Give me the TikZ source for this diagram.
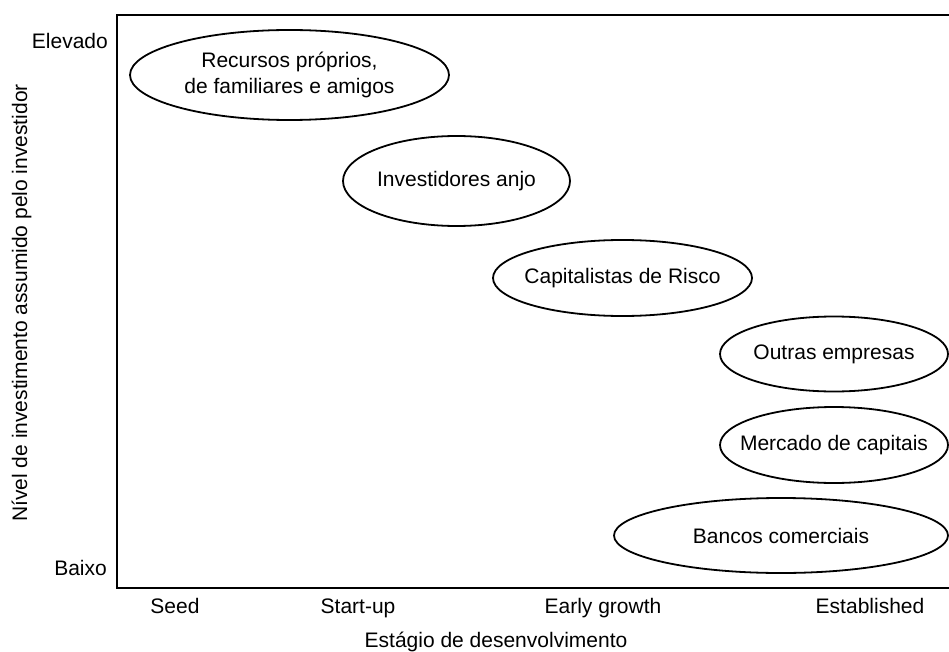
\documentclass[tikz,border=0pt]{standalone}
\usepackage{fontspec}
\setmainfont{Liberation Sans}
\usetikzlibrary{shapes.geometric}
\begin{document}
\begin{tikzpicture}[x=1pt,y=-1pt,
  every node/.style={font=\fontsize{21}{26}\selectfont, inner sep=0pt},
  oval/.style={ellipse, draw, line width=1.8pt},
  axis/.style={line width=2pt},
  tick/.style={anchor=base}]
\useasboundingbox (0,0) rectangle (949,652);
% axes
\coordinate (tr) at (949,15);
\coordinate (tl) at (117,15);
\coordinate (bl) at (117,588);
\coordinate (br) at (949,588);
\draw[axis] (tr) -- (tl) -- (bl) -- (br);
% ellipses
\node[oval, minimum width=319, minimum height=90] (rec) at (289.5,75) {};
\node[align=center] (rect) at (rec.center) {Recursos próprios,\\de familiares e amigos};
\node[oval, minimum width=227, minimum height=90] (anj) at (456.5,181) {};
\node (anjt) at (anj.center) {Investidores anjo};
\node[oval, minimum width=259, minimum height=76] (cap) at (622.5,278) {};
\node (capt) at (cap.center) {Capitalistas de Risco};
\node[oval, minimum width=228, minimum height=75] (out) at (834,354) {};
\node (outt) at (out.center) {Outras empresas};
\node[oval, minimum width=228, minimum height=76] (mer) at (834,445) {};
\node (mert) at (mer.center) {Mercado de capitais};
\node[oval, minimum width=334, minimum height=75] (ban) at (781,535.5) {};
\node (bant) at (ban.center) {Bancos comerciais};
% axis labels
\node[anchor=base east] (elev) at (108,49) {Elevado};
\node[anchor=base east] (baixo) at (107,575) {Baixo};
\node[tick] (seed) at (175,613) {Seed};
\node[tick] (start) at (358,613) {Start-up};
\node[tick] (early) at (603,613) {Early growth};
\node[tick] (est) at (870,613) {Established};
\node[tick] (xlab) at (496,647) {Estágio de desenvolvimento};
\node[rotate=90, anchor=base west] (ylab) at (27,522) {Nível de investimento assumido pelo investidor};
\end{tikzpicture}
\end{document}
